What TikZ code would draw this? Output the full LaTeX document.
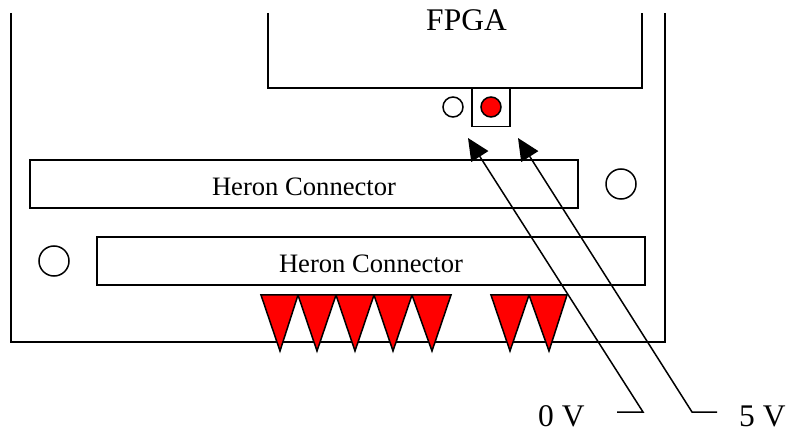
\documentclass[tikz,border=0pt]{standalone}
\usepackage{fontspec}
\setmainfont{Liberation Serif}
\usetikzlibrary{arrows.meta}
\tikzset{
  ln/.style={line width=1.5bp,black},
  conbox/.style={ln,draw,fill=white,inner sep=0pt,minimum width=548bp,minimum height=48bp,text height=24bp,text depth=0bp,font=\fontsize{26.6bp}{30bp}\selectfont},
  hole/.style={ln,draw,circle,inner sep=0pt,fill=white},
  redhole/.style={ln,draw,circle,inner sep=0pt,fill=red,minimum size=20bp},
  pin/.style={ln,fill=red,line join=miter},
  bigtxt/.style={inner sep=0pt,font=\fontsize{31.5bp}{34bp}\selectfont},
  leader/.style={line width=1.5bp,black,line join=miter,-{Triangle[length=22bp,width=20bp]}}
}
\begin{document}
\begin{tikzpicture}[x=1bp,y=-1bp]
\useasboundingbox (0,0) rectangle (789,437);
% board outline
\draw[ln] (11,13) -- (11,342) -- (665,342) -- (665,13);
% FPGA outline and label
\draw[ln] (268,13) -- (268,88) -- (642,88) -- (642,13);
\begin{scope}
\clip (400,0) rectangle (530,29.5);
\node[bigtxt,anchor=base] (fpga) at (466.5,30.5) {FPGA};
\end{scope}
% headers
\node[ln,draw,inner sep=0pt,minimum size=38bp] (sq) at (491,107.5) {};
\node[hole,minimum size=20bp] (h0) at (453,107) {};
\node[redhole] (h5) at (491,107) {};
% connectors
\node[conbox] (c1) at (304,184) {Heron Connector};
\node[conbox] (c2) at (371,261) {Heron Connector};
\node[hole,minimum size=30bp] (m1) at (621,184) {};
\node[hole,minimum size=30bp] (m2) at (54,261) {};
% pins
\foreach \l/\t/\r in {261/280/298,298/317/336,336/355/374,374/393/412,412/432/451,491/510/529,529/549/567}
  \draw[pin] (\l,295) -- (\r,295) -- (\t,351) -- cycle;
% labels and leaders
\node[bigtxt,anchor=base west] (v0) at (538,426.5) {0 V};
\node[bigtxt,anchor=base west] (v5) at (739,426.5) {5 V};
\coordinate (t0) at (468,138);
\coordinate (t5) at (518,138);
\coordinate (e0) at (617,412);
\coordinate (k0) at (643,412);
\coordinate (e5) at (717,412);
\coordinate (k5) at (692,412);
\draw[leader] (e0) -- (k0) -- (t0);
\draw[leader] (e5) -- (k5) -- (t5);
\end{tikzpicture}
\end{document}
